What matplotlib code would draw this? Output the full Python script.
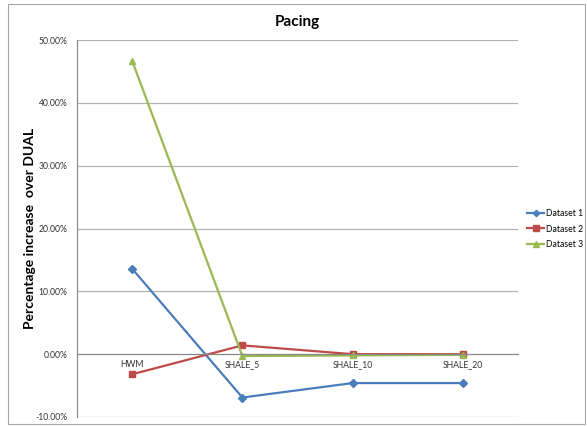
import matplotlib
matplotlib.use("Agg")
import matplotlib.pyplot as plt
from matplotlib.patches import Rectangle
from matplotlib.ticker import FuncFormatter

plt.rcParams['font.family'] = ['Lato', 'DejaVu Sans']

categories = ['HWM', 'SHALE_5', 'SHALE_10', 'SHALE_20']
dataset1 = [13.6, -6.9, -4.6, -4.6]
dataset2 = [-3.2, 1.4, 0.0, 0.0]
dataset3 = [46.7, -0.3, -0.2, -0.1]

fig = plt.figure(figsize=(5.87, 4.26), dpi=100)
fig.patches.append(Rectangle((8/587, 2/426), 577/587, 420/426, transform=fig.transFigure,
                             fill=False, edgecolor='#a6a6a6', linewidth=0.8))
ax = fig.add_axes([77/587, 1 - 417/426, 441/587, 377/426])

x = range(len(categories))
ax.plot(x, dataset1, color='#4A7EBB', marker='D', markersize=4, linewidth=1.6, label='Dataset 1')
ax.plot(x, dataset2, color='#BE4B48', marker='s', markersize=5, linewidth=1.6, label='Dataset 2')
ax.plot(x, dataset3, color='#98B954', marker='^', markersize=5, linewidth=1.6, label='Dataset 3')

ax.set_xlim(-0.5, 3.5)
ax.set_ylim(-10, 50)
ax.set_yticks(range(-10, 51, 10))
ax.yaxis.set_major_formatter(FuncFormatter(lambda v, p: '%.2f%%' % v))
ax.set_xticks(list(x))
ax.set_xticklabels(categories)
ax.grid(axis='y', color='#b3b3b3', linewidth=0.9)
ax.set_axisbelow(True)

for s in ['top', 'right']:
    ax.spines[s].set_visible(False)
ax.spines['left'].set_color('#888888')
ax.spines['bottom'].set_position(('data', 0))
ax.spines['bottom'].set_color('#888888')
ax.tick_params(axis='x', length=0, labelsize=6.2, pad=4, colors='#333333')
ax.tick_params(axis='y', length=0, labelsize=6.2, pad=7, colors='#333333')

ax.set_title('Pacing', fontsize=11, fontweight='bold', pad=10)
ax.set_ylabel('Percentage increase  over DUAL', fontsize=10, fontweight='bold', va='center')
ax.yaxis.set_label_coords(30/587, 1 - 228/426, transform=fig.transFigure)

ax.legend(loc='center left', bbox_to_anchor=(527/587, 1 - 229/426), bbox_transform=fig.transFigure,
          frameon=False, fontsize=6.2, borderaxespad=0, borderpad=0,
          handlelength=2.0, handletextpad=0.2, labelspacing=0.75, markerscale=0.8)

fig.savefig('out.png', dpi=100)
